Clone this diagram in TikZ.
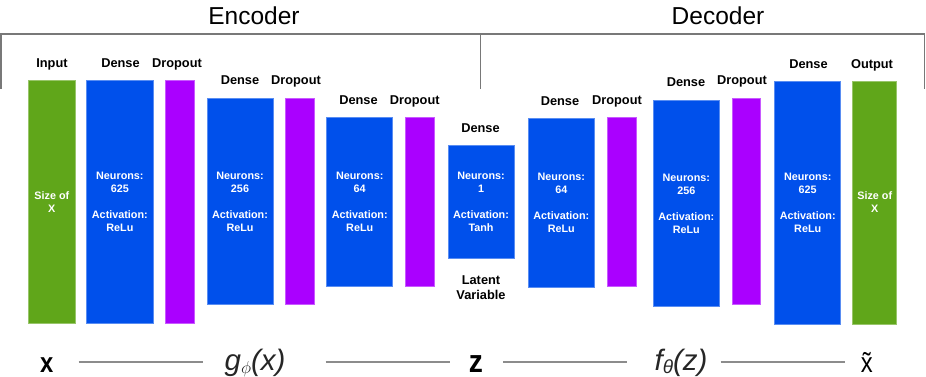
\documentclass[tikz,border=0pt]{standalone}
\usepackage{fontspec}
\setmainfont{Liberation Sans}
\definecolor{cgreen}{RGB}{96,166,26}
\definecolor{cblue}{RGB}{0,80,235}
\definecolor{cpurp}{RGB}{170,0,255}
\definecolor{cframe}{RGB}{120,120,120}
\definecolor{cline}{RGB}{140,140,140}
\begin{document}
\begin{tikzpicture}[x=1pt,y=-1pt,
  box/.style={draw=#1!65!white, fill=#1, line width=0.7pt, inner sep=0pt,
    text=white, font=\bfseries\fontsize{10.8}{13}\selectfont, align=center},
  sz/.style 2 args={minimum width=#1pt, minimum height=#2pt},
  lbl/.style={anchor=base, inner sep=0pt, font=\bfseries\fontsize{12.8}{14.7}\selectfont, align=center},
  ttl/.style={anchor=base, inner sep=0pt, font=\fontsize{24.5}{26}\selectfont},
  btm/.style={anchor=base, inner ysep=0pt, inner xsep=2pt, text height=24pt, text depth=4pt},
  btmf/.style={anchor=base, inner ysep=0pt, inner xsep=2pt, text height=22.5pt, text depth=5.5pt,
    text=black!85, font=\fontsize{29.5}{30}\selectfont\itshape},
  conn/.style={draw=cline, line width=1.8pt},
  frame/.style={draw=cframe, line width=1.3pt}
]
\useasboundingbox (0,0) rectangle (926,377);

% titles and frame
\node[ttl] (enc) at (254,24.3) {Encoder};
\node[ttl] (dec) at (718,24.3) {Decoder};
\draw[frame] (0.9,89) -- (0.9,34) -- (924.2,34) -- (924.2,89);
\draw[frame] (480.7,34) -- (480.7,89);

% encoder boxes
\node[box=cgreen, sz={47.7}{243.3}] (in) at (51.85,201.7) {Size of\\X};
\node[box=cblue, sz={66.3}{243}] (e1) at (119.85,201.5) {Neurons:\\625\\[13pt]Activation:\\ReLu};
\node[box=cpurp, sz={29}{243}] (p1) at (179.5,201.5) {};
\node[box=cblue, sz={66}{206}] (e2) at (240,201.7) {Neurons:\\256\\[13pt]Activation:\\ReLu};
\node[box=cpurp, sz={28.6}{206}] (p2) at (300,201.7) {};
\node[box=cblue, sz={66}{168.7}] (e3) at (359.7,201.7) {Neurons:\\64\\[13pt]Activation:\\ReLu};
\node[box=cpurp, sz={29}{168.7}] (p3) at (419.5,201.7) {};
\node[box=cblue, sz={66}{112.3}] (lat) at (481,201.8) {Neurons:\\1\\[13pt]Activation:\\Tanh};

% decoder boxes
\node[box=cblue, sz={66}{168.3}] (d3) at (561.3,202.8) {Neurons:\\64\\[13pt]Activation:\\ReLu};
\node[box=cpurp, sz={29}{168.3}] (q3) at (622.2,201.8) {};
\node[box=cblue, sz={66}{206}] (d2) at (686.3,203.7) {Neurons:\\256\\[13pt]Activation:\\ReLu};
\node[box=cpurp, sz={28.7}{206}] (q2) at (746.3,201.7) {};
\node[box=cblue, sz={66}{243.3}] (d1) at (807.7,202.7) {Neurons:\\625\\[13pt]Activation:\\ReLu};
\node[box=cgreen, sz={44}{243}] (out) at (874.7,202.5) {Size of\\X};

% labels
\node[lbl] (lin) at (52,67.7) {Input};
\node[lbl] (le1) at (120.5,67.7) {Dense};
\node[lbl] (lp1) at (177,67.7) {Dropout};
\node[lbl] (le2) at (240,84.3) {Dense};
\node[lbl] (lp2) at (296,84.3) {Dropout};
\node[lbl] (le3) at (358.5,105) {Dense};
\node[lbl] (lp3) at (414.7,105) {Dropout};
\node[lbl] (llat) at (480.5,132.7) {Dense};
\node[lbl] (lvar) at (481,299) {Latent\\Variable};
\node[lbl] (ld3) at (560,106) {Dense};
\node[lbl] (lq3) at (617,105) {Dropout};
\node[lbl] (ld2) at (686,86.3) {Dense};
\node[lbl] (lq2) at (742,85) {Dropout};
\node[lbl] (ld1) at (808.5,68.7) {Dense};
\node[lbl] (lout) at (872,68.7) {Output};

% bottom row
\node[btm] (bx) at (46.7,372) {\fontsize{28}{28}\selectfont\bfseries\scalebox{0.85}[1]{x}};
\node[btmf] (bg) at (255,370.5) {g\raisebox{-3pt}{\fontsize{19}{19}\selectfont$\phi$}(x)};
\node[btm] (bz) at (476,372) {\fontsize{32}{32}\selectfont\bfseries\scalebox{0.88}[1]{z}};
\node[btmf] (bf) at (681,370.5) {f\raisebox{-3pt}{\fontsize{19}{19}\selectfont\itshape θ}(z)};
\node[btm] (bxt) at (866.7,372) {\fontsize{28}{28}\selectfont\scalebox{0.85}[1]{\~{x}}};

\draw[conn, shorten <=23pt, shorten >=19pt] (bx.east) -- (bg.west);
\draw[conn, shorten <=38pt, shorten >=17pt] (bg.east) -- (bz.west);
\draw[conn, shorten <=18pt, shorten >=25pt] (bz.east) -- (bf.west);
\draw[conn, shorten <=11pt, shorten >=14pt] (bf.east) -- (bxt.west);
\end{tikzpicture}
\end{document}
